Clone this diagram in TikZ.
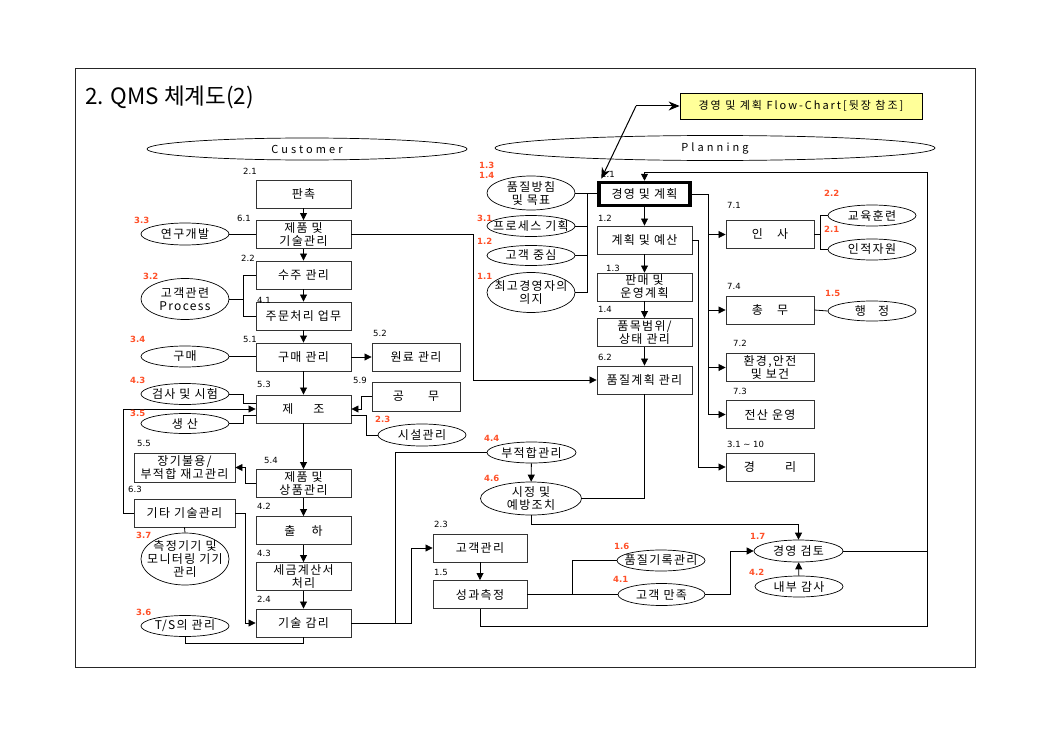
\documentclass[tikz,border=0pt]{standalone}
\usepackage{fontspec}
\setmainfont{Noto Sans CJK KR}
\newfontfamily\kr{Noto Sans CJK KR}[LetterSpace=11]
\newfontfamily\kry{Noto Sans CJK KR}[LetterSpace=18]
\newfontfamily\krw{Noto Sans CJK KR}[LetterSpace=28]
\newfontfamily\numf{DejaVu Sans}
\usetikzlibrary{shapes.geometric,arrows.meta,calc}
\definecolor{lblred}{RGB}{255,80,40}
\definecolor{flowyel}{RGB}{255,255,153}
\newcommand\bt{\kr\fontsize{12}{13}\selectfont}
\newcommand\Ell[5]{\node[ellnode, minimum width=#3pt, minimum height=#4pt] (#1) at (#2) {}; \node[etext] (#1t) at (#1) {#5};}
\tikzset{
  box/.style={draw=black!80, line width=0.9pt, rectangle, minimum width=95pt, minimum height=28pt, inner sep=0pt, align=center, font=\bt},
  ellnode/.style={ellipse, draw=black, line width=0.7pt, inner sep=0pt},
  etext/.style={inner sep=0pt, align=center, font=\bt},
  con/.style={draw=black, line width=0.8pt},
  arr/.style={con, -{Triangle[length=7pt,width=7pt]}},
  stl/.style={con, line width=1pt, -{Stealth[length=11pt,width=9pt]}},
  num/.style={anchor=south west, inner sep=0pt, font=\numf\fontsize{8.5}{9}\selectfont, text=black},
  rnum/.style={num, font=\numf\bfseries\fontsize{8.5}{9}\selectfont, text=lblred},
}
\begin{document}
\begin{tikzpicture}[x=1pt,y=-1pt]
\useasboundingbox (0,0) rectangle (1054,741);
\fill[white] (0,0) rectangle (1054,741);
\draw[line width=0.8pt, draw=black!85] (75,68) rectangle (975,667);
\node[anchor=base west, inner sep=0pt, font=\fontsize{22.5}{26}\selectfont] (title) at (85,105) {2. QMS 체계도(2)};

\node[draw=black, line width=0.8pt, fill=flowyel, minimum width=242pt, minimum height=26pt, inner sep=0pt, font=\kry\fontsize{11}{12}\selectfont] (flow) at (801,106) {경영 및 계획 Flow-Chart[뒷장 참조]};

% header ellipses
\node[ellnode, minimum width=320pt, minimum height=22pt] (cust) at (307,149) {};
\node[inner sep=0pt, font=\krw\fontsize{11}{13}\selectfont] (custt) at (cust) {Customer};
\node[ellnode, minimum width=440pt, minimum height=25pt] (plan) at (715,148) {};
\node[inner sep=0pt, font=\krw\fontsize{11}{13}\selectfont] (plant) at (plan) {Planning};

% left column
\node[box] (b21) at (303.5,194) {판촉};
\node[box] (b61) at (303.5,234.5) {제품 및\\기술관리};
\node[box] (b22) at (303.5,275) {수주 관리};
\node[box] (b41) at (303.5,316) {주문처리 업무};
\node[box] (b51) at (303.5,357) {구매 관리};
\node[box] (b53) at (303.5,409) {제\hspace{20pt}조};
\node[box] (b54) at (303.5,483.5) {제품 및\\상품관리};
\node[box] (b42) at (303.5,530.5) {출\hspace{16pt}하};
\node[box] (b43) at (303.5,576.5) {세금계산서\\처리};
\node[box] (b24) at (303.5,623) {기술 감리};
\node[box, minimum width=88pt] (b52) at (416,357) {원료 관리};
\node[box, minimum width=88pt, minimum height=29pt] (b59) at (416,396.5) {공\hspace{24pt}무};
\node[box, minimum width=101pt, minimum height=29pt] (b55) at (184.5,467.5) {장기불용/\\부적합 재고관리};
\node[box, minimum width=101pt] (b63) at (184.5,513) {기타 기술관리};

\Ell{e33}{185,234}{88}{22}{연구개발}
\Ell{e32}{185,299}{88}{41}{고객관련\\Process}
\Ell{e34}{185,356.5}{88}{21}{구매}
\Ell{e43}{185,394}{88}{21}{검사 및 시험}
\Ell{e35}{185,423.5}{88}{20}{생 산}
\Ell{e37}{185,559}{88}{52}{측정기기 및\\모니터링 기기\\관리}
\Ell{e36}{185,626}{88}{21}{T/S의 관리}
\Ell{e23}{422,435}{88}{22}{시설관리}

% planning column
\node[box, draw=black, line width=3.5pt, minimum width=91pt, minimum height=23pt] (p11) at (644.5,194) {경영 및 계획};
\node[box] (p12) at (644.5,240) {계획 및 예산};
\node[box] (p13) at (644.5,287) {판매 및\\운영계획};
\node[box] (p14) at (644.5,332.5) {품목범위/\\상태 관리};
\node[box] (p62) at (644.5,380) {품질계획 관리};

\Ell{q13}{531,193}{88}{34}{품질방침\\및 목표}
\Ell{q31}{531,226}{88}{21}{프로세스 기획}
\Ell{q12}{531,255.5}{88}{20}{고객 중심}
\Ell{q11}{531,292.5}{88}{40}{최고경영자의\\의지}

% right column
\node[box, minimum width=88pt] (r71) at (770,234.5) {인\hspace{14pt}사};
\node[box, minimum width=88pt] (r74) at (770,310) {총\hspace{14pt}무};
\node[box, minimum width=88pt] (r72) at (770,367.5) {환경,안전\\및 보건};
\node[box, minimum width=88pt] (r73) at (770,414.5) {전산 운영};
\node[box, minimum width=88pt] (r31) at (770,467) {경\hspace{30pt}리};

\Ell{s22}{872,215.5}{88}{21}{교육훈련}
\Ell{s21}{872,249.5}{88}{21}{인적자원}
\Ell{s15}{872,311}{88}{20}{행\hspace{12pt}정}

% middle
\Ell{m44}{531.5,452.5}{89}{21}{부적합관리}
\Ell{m46}{531,498.5}{101}{33}{시정 및\\예방조치}
\node[box, minimum width=94pt] (c23) at (480,548) {고객관리};
\node[box, minimum width=94pt] (c15) at (480,594.5) {성과측정};
\Ell{m16}{661,560.5}{88}{21}{품질기록관리}
\Ell{m41}{661.5,594.5}{87}{22}{고객 만족}
\Ell{m17}{798.5,551}{89}{22}{경영 검토}
\Ell{m42}{799,586.5}{88}{21}{내부 감사}

% coordinates
\coordinate (jA) at (243,299);
\coordinate (jC) at (395,623);
\coordinate (jD) at (572,594.5);
\coordinate (jE) at (587,193);
\coordinate (jF) at (708,194);
\coordinate (jG) at (820,234.5);
\coordinate (jH) at (636,106);
\coordinate (lpBR) at (927,626);
\coordinate (lpTR) at (927,172);

% connectors: left column
\foreach \a/\b in {b21/b61,b61/b22,b22/b41,b41/b51,b51/b53,b53/b54,b54/b42,b42/b43,b43/b24}
  \draw[arr] (\a) -- (\b);
\draw[con] (e33.east) -- (e33.east -| b61.west);
\draw[con] (e32.east) -- (jA);
\draw[con] (b22.west) -- (b22.west -| jA) -- (b41.west -| jA) -- (b41.west);
\draw[con] (e34.east) -- (e34.east -| b51.west);
\draw[arr] (b51) -- (b52);
\draw[con] (e43.east) -| (243,403) -- ($(b53.west)+(0,-6)$);
\draw[con] (e35.east) -| (243,415) -- ($(b53.west)+(0,6)$);
\draw[arr] (b63.west) -- ++(-10,0) |- (b53.west);
\draw[arr] (b54.west) -- ++(-10,0) |- (b55.east);
\draw[arr] (b63.east) -- ++(10,0) |- (b24.west);
\draw[con] (b63.south) -- (e37.north);
\draw[con] (e36.south) -- ++(0,7) -| (b24.south);
\draw[arr] (b59.west) -- ++(-10,0) |- (b53.east);
\draw[con] ($(b53.east)+(0,6)$) -- ++(15,0) |- (e23.west);
\draw[arr] (b61.east) -- (473,234.5) |- (p62.west);
\draw[arr] (b24.east) -- (411,623) |- (c23.west);
\draw[con] (jC) |- (m44.west);

% middle
\draw[arr] (c23) -- (c15);
\draw[con] (c15.east) -- (m41.west);
\draw[con] (jD) |- (m16.west);
\draw[arr] (m41.east) -- ++(25,0) |- (m17.west);
\draw[arr] (m42) -- (m17);
\draw[arr] (m44) -- (m46);
\draw[con] (p62.south) |- (m46.east);
\draw[arr] (m46.south) -- ++(0,9) -| (m17.north);
\draw[arr] (c15.south) |- (lpBR) -- (lpTR) -| (p11.north);
\draw[con] (m17.east) -- (m17.east -| lpBR);

% planning
\foreach \a/\b in {p11/p12,p12/p13,p13/p14,p14/p62}
  \draw[arr] (\a) -- (\b);
\draw[con] (q13.east) -- (q13.east -| p11.west);
\draw[con] (jE) |- (q11.east);
\draw[con] (q31.east) -- (q31.east -| jE);
\draw[con] (q12.east) -- (q12.east -| jE);

% right
\draw[con] (p11.east) -- (jF) -- (jF |- r73.west);
\foreach \t in {r71,r74,r72,r73}
  \draw[arr] (\t.west -| jF) -- (\t.west);
\draw[arr] (p12.east) -- ++(6,0) |- (r31.west);
\draw[con] (r71.east) -- (jG);
\draw[con] (s22.west) -| (jG);
\draw[con] (s21.west) -| (jG);
\draw[con] (r74.east) -- (s15.west);

% top double arrow
\draw[stl] (jH) -- (flow.west);
\draw[stl] (jH) -- ($(p11.north west)+(4,-2)$);

% labels
\foreach \p/\t [count=\i] in {{243,175}/2.1, {237,222}/6.1, {241,262}/2.2, {257,304}/4.1, {243,343}/5.1, {257,388}/5.3, {137,447}/5.5, {264,464}/5.4, {128,493}/6.3, {257,510}/4.2, {257,557}/4.3, {257,603}/2.4, {373,337}/5.2, {353,384}/5.9, {434,528}/2.3, {434,576}/1.5, {601,178}/1.1, {598,222}/1.2, {606,272}/1.3, {598,313}/1.4, {598,361}/6.2, {727,209}/7.1, {727,290}/7.4, {733,347}/7.2, {733,395}/7.3, {727,448}/3.1 \textasciitilde{} 10}
  \node[num] (lk\i) at (\p) {\t};
\foreach \p/\t [count=\i] in {{134,224}/3.3, {143,280}/3.2, {130,343}/3.4, {130,384}/4.3, {130,417}/3.5, {136,539}/3.7, {136,616}/3.6, {375,423}/2.3, {479,169}/1.3, {479,179}/1.4, {477,222}/3.1, {477,245}/1.2, {477,280}/1.1, {484,442}/4.4, {484,482}/4.6, {614,550}/1.6, {613,583}/4.1, {750,540}/1.7, {749,576}/4.2, {824,197}/2.2, {824,233}/2.1, {825,297}/1.5}
  \node[rnum] (lr\i) at (\p) {\t};
\end{tikzpicture}
\end{document}
